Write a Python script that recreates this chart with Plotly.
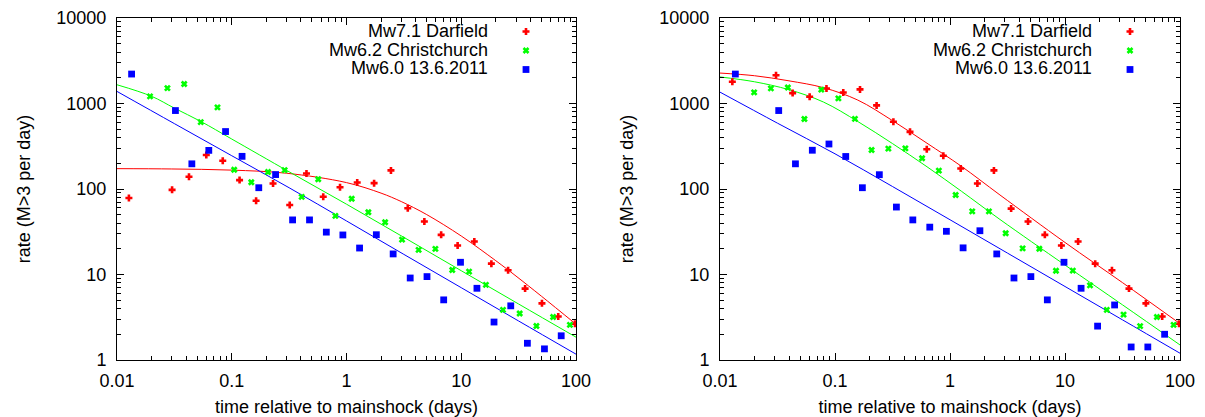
import plotly.graph_objects as go

# ---------------- data ----------------
# Left panel: observed rates
L_dar_t = [0.0127, 0.0302, 0.0424, 0.0600, 0.0835, 0.117, 0.163, 0.229, 0.320, 0.448, 0.627, 0.878,
           1.24, 1.74, 2.44, 3.42, 4.77, 6.68, 9.3, 13.0, 18.3, 25.6, 36.0, 50.5, 70.0, 98.0]
L_dar_r = [78.6, 97.7, 139, 250, 214, 127, 73, 116, 65, 152, 81, 105,
           119, 117, 165, 59.6, 41.6, 29.1, 21.8, 24.3, 13.4, 11.2, 6.84, 4.6, 3.23, 2.65]
L_chc_t = [0.0194, 0.0275, 0.0385, 0.0537, 0.0751, 0.105, 0.148, 0.207, 0.289, 0.407, 0.567, 0.80,
           1.11, 1.55, 2.17, 3.05, 4.25, 5.95, 8.35, 11.7, 16.4, 23.1, 32.3, 45.2, 63.2, 88.5]
L_chc_r = [1210, 1515, 1690, 606, 900, 168, 120, 158, 166, 81, 130, 48.5,
           77, 53.5, 40.8, 25.6, 19.4, 19.9, 11.3, 10.8, 7.55, 3.86, 3.5, 2.5, 3.18, 2.57]
L_jun_t = [0.0134, 0.0323, 0.0449, 0.0631, 0.0883, 0.123, 0.172, 0.241, 0.339, 0.476, 0.667, 0.93,
           1.30, 1.82, 2.55, 3.59, 5.03, 7.03, 9.85, 13.7, 19.3, 27.0, 37.7, 53.1, 74.3]
L_jun_r = [2210, 827, 197, 283, 470, 241, 103.5, 147.5, 43.5, 43.5, 31.3, 29,
           20.4, 29.2, 17.4, 9.1, 9.45, 5.05, 13.9, 6.9, 2.78, 4.3, 1.57, 1.35, 1.92]

# Left panel: fitted curves
L_dar_fit_t = [0.01, 0.03, 0.1, 0.3, 1, 2, 3, 5, 10, 20, 30, 50, 100]
L_dar_fit_r = [173, 171.5, 166.3, 152.9, 118.8, 89.5, 71.3, 50.2, 28.2, 14.5, 9.59, 5.57, 2.62]
L_chc_fit_t = [0.01, 0.02, 0.0316, 0.054, 0.1, 0.316, 1, 3.16, 10, 31.6, 100]
L_chc_fit_r = [1656, 1215, 883, 615, 384, 159, 66.4, 27.2, 11.07, 4.52, 1.85]
L_jun_fit_t = [0.01, 0.0316, 0.1, 0.316, 1, 3.16, 10, 31.6, 100]
L_jun_fit_r = [1384, 582, 245, 103.5, 42.3, 17.2, 7.01, 2.86, 1.17]

# Right panel: observed rates
R_dar_t = [0.0128, 0.0307, 0.0428, 0.0602, 0.0843, 0.118, 0.165, 0.230, 0.322, 0.449, 0.628, 0.875,
           1.24, 1.73, 2.41, 3.40, 4.77, 6.68, 9.3, 13.0, 18.3, 25.6, 36.0, 50.5, 70.0, 98.0]
R_dar_r = [1795, 2140, 1324, 1199, 1495, 1347, 1462, 950, 612, 466, 292, 245,
           174, 116, 165, 59, 41.6, 29.1, 21.8, 24.3, 13.4, 11.2, 6.84, 4.6, 3.23, 2.65]
R_chc_t = [0.0198, 0.0277, 0.0389, 0.0542, 0.0760, 0.107, 0.149, 0.208, 0.291, 0.409, 0.572, 0.80,
           1.12, 1.56, 2.18, 3.05, 4.28, 5.98, 8.35, 11.7, 16.5, 23.1, 32.3, 45.0, 63.0, 88.0]
R_chc_r = [1348, 1502, 1537, 658, 1454, 1146, 660, 286, 296, 299, 229, 164,
           85, 54.8, 54.8, 30.4, 20.2, 20, 11.05, 11.1, 7.45, 3.86, 3.4, 2.49, 3.18, 2.58]
R_jun_t = [0.0136, 0.0324, 0.0453, 0.0635, 0.0886, 0.124, 0.173, 0.243, 0.342, 0.475, 0.667, 0.93,
           1.30, 1.82, 2.55, 3.60, 5.05, 7.02, 9.8, 13.8, 19.2, 27.0, 37.6, 52.5, 73.5]
R_jun_r = [2210, 827, 197, 284, 336, 240, 103.5, 147, 61.5, 43.5, 35.8, 32,
           20.5, 32.5, 17.4, 9.1, 9.45, 5.05, 13.9, 6.9, 2.49, 4.4, 1.42, 1.42, 2.0]

# Right panel: fitted curves
R_fit_t = [0.01, 0.01995, 0.0398, 0.0794, 0.158, 0.316, 0.631, 1.259, 2.72, 10, 31.6, 100]
R_dar_fit_r = [2270, 2113, 1841, 1531, 1096, 631, 343, 184, 85.1, 23.7, 8.04, 2.66]
R_chc_fit_r = [2045, 1795, 1450, 1040, 615, 340, 182, 94, 44, 12.9, 4.42, 1.50]
R_jun_fit_t = [0.01, 0.0316, 0.1, 0.316, 1, 3.16, 10, 31.6, 100]
R_jun_fit_r = [1358, 589, 258, 107, 43.7, 17.8, 7.24, 2.95, 1.20]

# Labels
series_names = ["Mw7.1 Darfield", "Mw6.2 Christchurch", "Mw6.0 13.6.2011"]
x_tickvals = [0.01, 0.1, 1, 10, 100]
x_ticktext = ["0.01", "0.1", "1", "10", "100"]
y_tickvals = [1, 10, 100, 1000, 10000]
y_ticktext = ["1", "10", "100", "1000", "10000"]
x_title = "time relative to mainshock (days)"
y_title = "rate (M>3 per day)"

# ---------------- style ----------------
W, H = 1205, 417
FONT = "Liberation Sans, Arial, Helvetica, sans-serif"
COLORS = ["#ff0000", "#00ff00", "#0000ff"]
MARKERS = [
    dict(symbol="cross-thin", size=5.0, color=COLORS[0], line=dict(width=2.6, color=COLORS[0])),
    dict(symbol="x-thin", size=5.0, color=COLORS[1], line=dict(width=2.6, color=COLORS[1])),
    dict(symbol="square", size=6.8, color=COLORS[2], line=dict(width=0)),
]

def fx(p):
    return p / W

def fy(p):
    return 1 - p / H

panels = [
    dict(xa="x", ya="y", legend="legend",
         pts=[(L_dar_t, L_dar_r), (L_chc_t, L_chc_r), (L_jun_t, L_jun_r)],
         fits=[(L_dar_fit_t, L_dar_fit_r), (L_chc_fit_t, L_chc_fit_r), (L_jun_fit_t, L_jun_fit_r)],
         left=117, right=576),
    dict(xa="x2", ya="y2", legend="legend2",
         pts=[(R_dar_t, R_dar_r), (R_chc_t, R_chc_r), (R_jun_t, R_jun_r)],
         fits=[(R_fit_t, R_dar_fit_r), (R_fit_t, R_chc_fit_r), (R_jun_fit_t, R_jun_fit_r)],
         left=720, right=1180),
]

fig = go.Figure()
for p in panels:
    for i, (ft, fr) in enumerate(p["fits"]):
        fig.add_trace(go.Scatter(x=ft, y=fr, mode="lines", xaxis=p["xa"], yaxis=p["ya"],
                                 line=dict(color=COLORS[i], width=1, shape="spline", smoothing=1.0),
                                 showlegend=False, hoverinfo="skip"))
    for i, (t, r) in enumerate(p["pts"]):
        fig.add_trace(go.Scatter(x=t, y=r, mode="markers", xaxis=p["xa"], yaxis=p["ya"],
                                 marker=MARKERS[i], name=" ", legend=p["legend"],
                                 showlegend=True))

top, bottom = 18, 360
minor_vals = [m * 10 ** e for e in range(-2, 4) for m in range(2, 10)]

def axis(domain, vals, text, title, is_x):
    d = dict(type="log", domain=domain,
             range=[-2, 2] if is_x else [0, 4],
             tickmode="array", tickvals=vals, ticktext=text,
             showline=True, linecolor="black", linewidth=1, mirror="allticks",
             ticks="inside", ticklen=7, tickwidth=1, tickcolor="black",
             minor=dict(ticks="inside", ticklen=4, tickwidth=1, tickcolor="black",
                        tickmode="array", tickvals=minor_vals, showgrid=False),
             showgrid=False, zeroline=False, automargin=False,
             ticklabelstandoff=4 if is_x else 6,
             tickfont=dict(family=FONT, size=18, color="black"),
             title=dict(text=title, font=dict(family=FONT, size=18, color="black"),
                        standoff=10 if is_x else 21))
    return d

layout = dict(width=W, height=H, margin=dict(l=0, r=0, t=0, b=0, pad=0),
              paper_bgcolor="white", plot_bgcolor="white",
              font=dict(family=FONT, size=18, color="black"), showlegend=True)

for k, p in enumerate(panels):
    sx = "" if k == 0 else "2"
    layout["xaxis" + sx] = axis([fx(p["left"]), fx(p["right"])], x_tickvals, x_ticktext, x_title, True)
    layout["yaxis" + sx] = axis([fy(bottom), fy(top)], y_tickvals, y_ticktext, y_title, False)
    layout["xaxis" + sx]["anchor"] = "y" + sx
    layout["yaxis" + sx]["anchor"] = "x" + sx
    # legend with symbols only; text drawn as right-aligned annotations
    layout[p["legend"]] = dict(x=fx(p["right"] - 70), y=fy(17), xanchor="left", yanchor="top",
                               bgcolor="rgba(0,0,0,0)", borderwidth=0,
                               font=dict(family=FONT, size=12), tracegroupgap=0,
                               itemwidth=30, traceorder="normal")

annotations = []
for k, p in enumerate(panels):
    for j, name in enumerate(series_names):
        annotations.append(dict(text=name, xref="paper", yref="paper",
                                x=fx(p["right"] - 86), y=fy(31.5 + 18.3 * j),
                                xanchor="right", yanchor="middle", showarrow=False,
                                font=dict(family=FONT, size=18, color="black")))
layout["annotations"] = annotations

fig.update_layout(**layout)
fig.write_html("out.html")
